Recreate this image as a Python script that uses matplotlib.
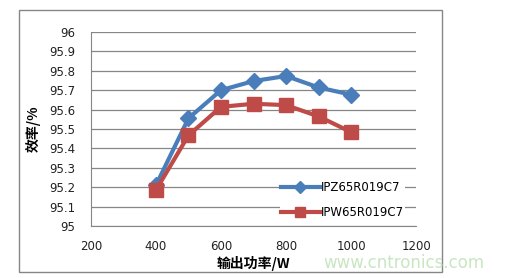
import matplotlib.pyplot as plt
from matplotlib.patches import Rectangle

plt.rcParams['font.family'] = ['DejaVu Sans', 'Noto Sans CJK SC']

power = [400, 500, 600, 700, 800, 900, 1000]
eff_ipz = [95.21, 95.555, 95.70, 95.747, 95.773, 95.714, 95.677]
eff_ipw = [95.185, 95.467, 95.614, 95.63, 95.623, 95.565, 95.484]
x_ticks = [200, 400, 600, 800, 1000, 1200]
y_ticks = [95, 95.1, 95.2, 95.3, 95.4, 95.5, 95.6, 95.7, 95.8, 95.9, 96]

fig = plt.figure(figsize=(5.05, 2.78), dpi=100)
ax = fig.add_axes([0.180, 0.187, 0.644, 0.698])

# outer chart border
fig.patches.append(Rectangle((19 / 505, 1 - 272 / 278), 423 / 505, 262 / 278,
                             transform=fig.transFigure, fill=False,
                             edgecolor='#868686', linewidth=1.0))

ax.plot(power, eff_ipz, color='#4A7EBB', linewidth=3, marker='D', markersize=8.5,
        label='IPZ65R019C7', zorder=3)
ax.plot(power, eff_ipw, color='#BE4B48', linewidth=3, marker='s', markersize=10,
        label='IPW65R019C7', zorder=3)

ax.set_xlim(200, 1200)
ax.set_ylim(95, 96)
ax.set_xticks(x_ticks)
ax.set_yticks(y_ticks)
ax.set_yticklabels([f'{v:g}' for v in y_ticks])
ax.tick_params(length=0, labelsize=8.5, colors='#222222')
ax.tick_params(axis='y', pad=11)
ax.tick_params(axis='x', pad=10)
ax.grid(axis='y', color='#868686', linewidth=0.9)
ax.set_axisbelow(True)
for side in ['top', 'right']:
    ax.spines[side].set_visible(False)
for side in ['left', 'bottom']:
    ax.spines[side].set_color('#868686')

ax.set_xlabel('输出功率/W', family=['Noto Sans CJK SC'], fontweight='bold',
              fontsize=10, labelpad=2)
ax.set_ylabel('效率/%', family=['Noto Sans CJK SC'], fontweight='bold',
              fontsize=10, labelpad=6)

leg = ax.legend(loc='lower right', bbox_to_anchor=(0.985, 0.0), fontsize=8.5,
                frameon=True, framealpha=1, edgecolor='none', fancybox=False,
                handlelength=3.3, borderpad=0.1, labelspacing=1.0,
                handletextpad=0.1, markerscale=0.75)

fig.text(0.96, 0.055, 'www.cntronics.com', color='#c8e6c0', fontsize=12,
         ha='right', va='center')

fig.savefig('out.png', dpi=100)
